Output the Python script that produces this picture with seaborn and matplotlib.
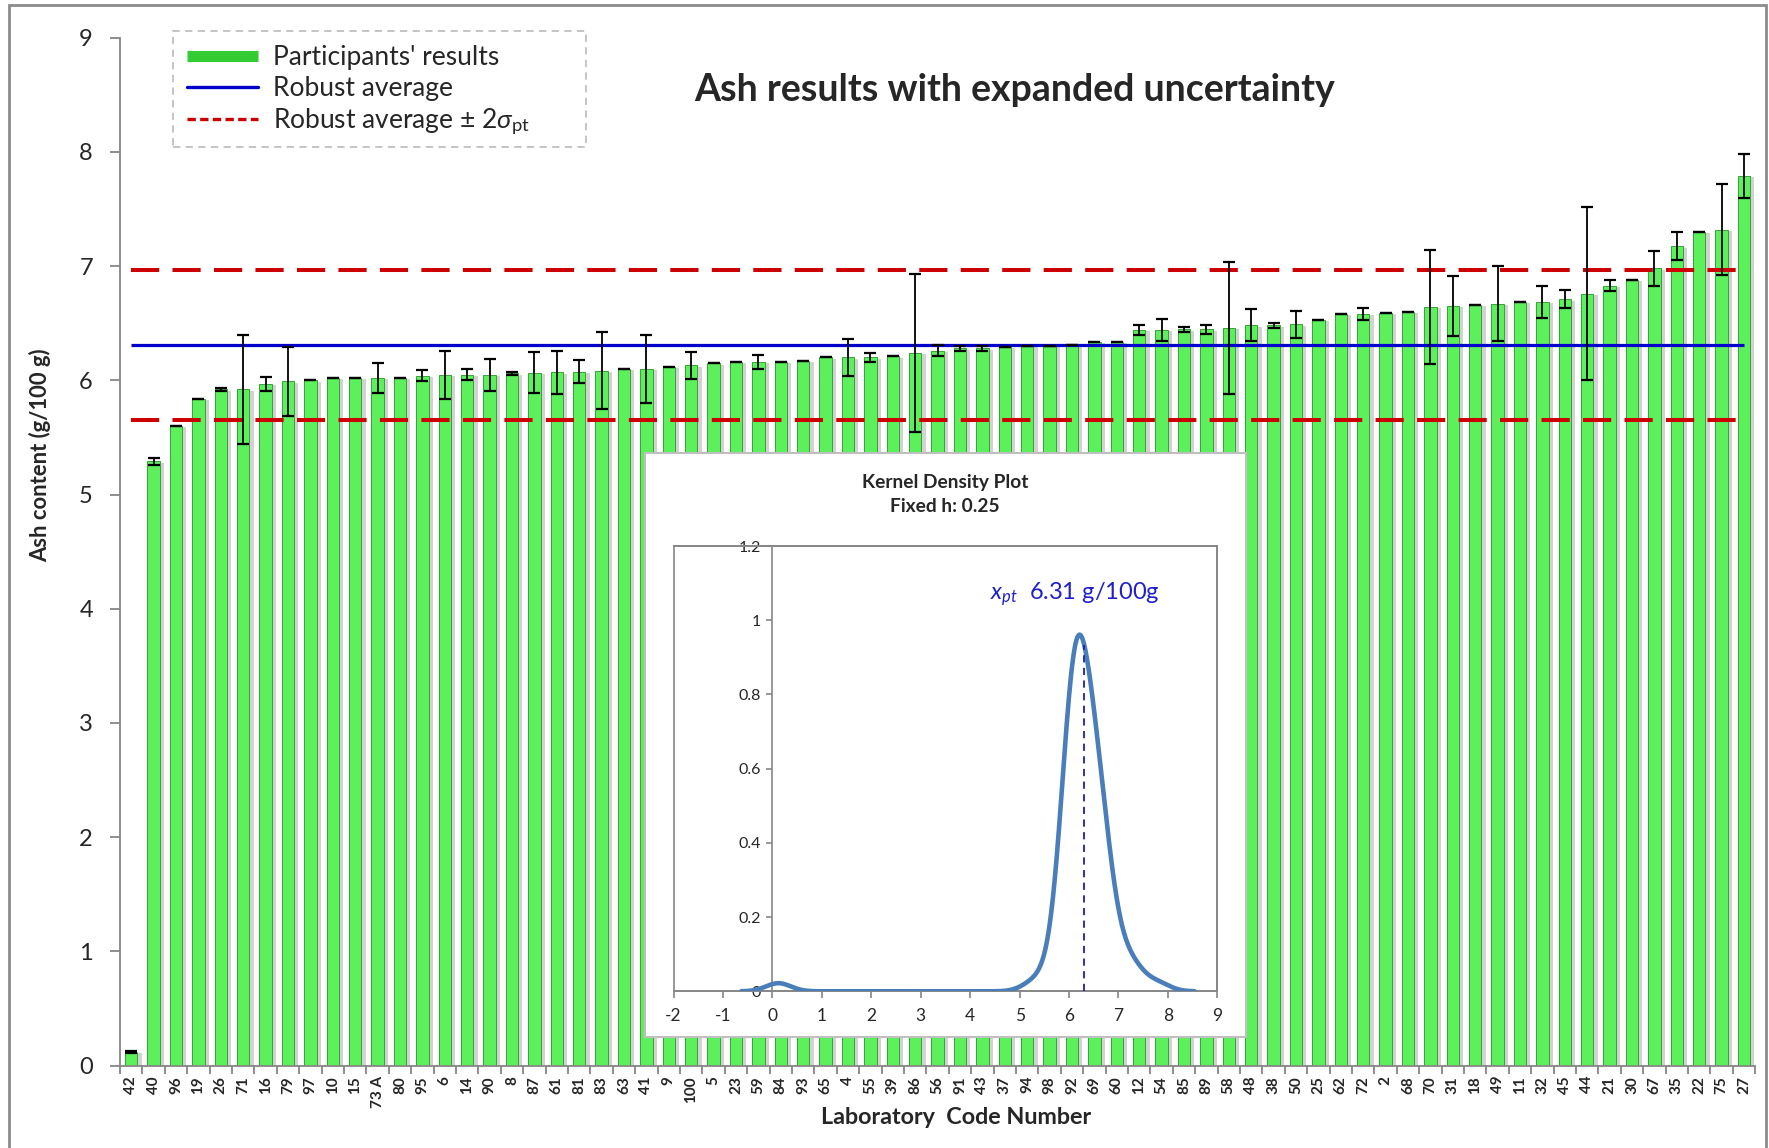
import numpy as np
import pandas as pd
import matplotlib
matplotlib.use("Agg")
import matplotlib.pyplot as plt
import matplotlib.patheffects as pe
from matplotlib.lines import Line2D
from matplotlib.patches import Rectangle
import seaborn as sns

# Laboratory codes, sorted by reported ash content
lab_codes = ["42", "40", "96", "19", "26", "71", "16", "79", "97", "10", "15", "73 A",
             "80", "95", "6", "14", "90", "8", "87", "61", "81", "83", "63", "41", "9",
             "100", "5", "23", "59", "84", "93", "65", "4", "55", "39", "86", "56", "91",
             "43", "37", "94", "98", "92", "69", "60", "12", "54", "85", "89", "58", "48",
             "38", "50", "25", "62", "72", "2", "68", "70", "31", "18", "49", "11", "32",
             "45", "44", "21", "30", "67", "35", "22", "75", "27"]

# Reported ash content (g/100 g)
ash_values = [0.12, 5.29, 5.60, 5.84, 5.92, 5.92, 5.97, 5.99, 6.00, 6.02, 6.02, 6.02,
              6.02, 6.04, 6.05, 6.05, 6.05, 6.06, 6.065, 6.07, 6.075, 6.085, 6.10, 6.10, 6.12,
              6.13, 6.15, 6.16, 6.16, 6.16, 6.17, 6.20, 6.20, 6.20, 6.21, 6.24, 6.26, 6.28,
              6.28, 6.295, 6.30, 6.30, 6.31, 6.335, 6.335, 6.44, 6.44, 6.445, 6.445, 6.46, 6.48,
              6.48, 6.49, 6.53, 6.58, 6.58, 6.59, 6.60, 6.645, 6.65, 6.66, 6.67, 6.685, 6.685,
              6.71, 6.76, 6.83, 6.88, 6.98, 7.175, 7.30, 7.32, 7.79]

# Expanded uncertainty (half-width, g/100 g)
expanded_unc = [0.01, 0.03, 0.0, 0.0, 0.01, 0.48, 0.06, 0.30, 0.0, 0.0, 0.0, 0.13,
                0.0, 0.05, 0.21, 0.05, 0.14, 0.01, 0.18, 0.19, 0.10, 0.34, 0.0, 0.30, 0.0,
                0.12, 0.0, 0.0, 0.06, 0.0, 0.0, 0.0, 0.16, 0.04, 0.0, 0.69, 0.05, 0.02,
                0.02, 0.0, 0.0, 0.0, 0.0, 0.0, 0.0, 0.04, 0.10, 0.02, 0.04, 0.58, 0.14,
                0.025, 0.12, 0.0, 0.0, 0.05, 0.0, 0.0, 0.50, 0.26, 0.0, 0.33, 0.0, 0.14,
                0.08, 0.755, 0.05, 0.0, 0.15, 0.125, 0.0, 0.40, 0.19]

robust_average = 6.31      # x_pt
two_sigma_pt = 0.66        # 2 * sigma_pt
kde_bandwidth = 0.25       # fixed h

y_ticks = list(range(0, 10))
kde_x_ticks = list(range(-2, 10))
kde_y_ticks = [0, 0.2, 0.4, 0.6, 0.8, 1.0, 1.2]
kde_y_ticklabels = ["0", "0.2", "0.4", "0.6", "0.8", "1", "1.2"]

sns.set_style("white")
plt.rcParams["font.family"] = ["Lato", "DejaVu Sans"]
plt.rcParams["mathtext.fontset"] = "custom"
plt.rcParams["mathtext.rm"] = "Lato"
plt.rcParams["mathtext.it"] = "Lato:italic"
plt.rcParams["mathtext.bf"] = "Lato:bold"
plt.rcParams["axes.unicode_minus"] = False

W, H = 1769, 1148
fig = plt.figure(figsize=(W / 100, H / 100), dpi=100)
fig.patch.set_facecolor("white")


def fx(px):
    return px / W


def fy(py):
    return 1 - py / H


GRAY = "#868686"

# ---- main bar chart ----
ax = fig.add_axes([fx(120), fy(1065.5), fx(1755.2) - fx(120), fy(37.7) - fy(1065.5)])
df = pd.DataFrame({"lab": lab_codes, "ash": ash_values, "unc": expanded_unc})
sns.barplot(data=df, x="lab", y="ash", ax=ax, color="#5cf05c", saturation=1,
            width=0.55, errorbar=None, edgecolor="#36a336", linewidth=0.7, zorder=2)
for bar in ax.patches:
    bar.set_path_effects([pe.SimplePatchShadow(offset=(3, -1), shadow_rgbFace="#7f7f7f", alpha=0.35),
                          pe.Normal()])

xpos = np.arange(len(lab_codes))
ax.hlines([robust_average - two_sigma_pt, robust_average + two_sigma_pt], xpos[0], xpos[-1],
          colors="#cc0000", linestyles=[(0, (7, 3.3))], lw=2.9, zorder=3)
ax.hlines(robust_average, xpos[0], xpos[-1], colors="#0000cc", lw=2.3, zorder=3)
ax.errorbar(xpos, df["ash"], yerr=df["unc"], fmt="none", ecolor="black",
            elinewidth=1.3, capsize=4.5, capthick=1.6, zorder=4)

ax.set_xlim(-0.5, len(lab_codes) - 0.5)
ax.set_ylim(0, 9)
ax.set_yticks(y_ticks)
ax.set_xticks(xpos)
ax.set_xticklabels(lab_codes, rotation=90, fontweight="bold", fontsize=11)
ax.set_xticks(np.arange(-0.5, len(lab_codes)), minor=True)
ax.set_xlabel("")
ax.set_ylabel("")
for s in ["top", "right"]:
    ax.spines[s].set_visible(False)
for s in ["left", "bottom"]:
    ax.spines[s].set_color(GRAY)
    ax.spines[s].set_linewidth(1.3)
ax.tick_params(axis="y", length=7, width=1.3, color=GRAY, labelsize=17, pad=12.5, left=True)
ax.tick_params(axis="x", which="major", length=0, pad=7.5)
ax.tick_params(axis="x", which="minor", length=6, width=1.3, color=GRAY, bottom=True)

fig.text(fx(40), fy(455), "Ash content (g/100 g)", rotation=90, ha="center", va="center",
         fontsize=15.8, fontweight="bold")
fig.text(fx(956), fy(1117), "Laboratory  Code Number", ha="center", va="center",
         fontsize=16.8, fontweight="bold")
fig.text(fx(1014.5), fy(90), "Ash results with expanded uncertainty", ha="center", va="center",
         fontsize=27, fontweight="bold")

handles = [Line2D([], [], color="#33cc33", lw=8, solid_capstyle="butt"),
           Line2D([], [], color="#0000cc", lw=2.4),
           Line2D([], [], color="#cc0000", lw=2.4, linestyle=(0, (2.5, 1.3)))]
labels = ["Participants' results", "Robust average", r"Robust average ± 2$\sigma_{\rm pt}$"]
leg = ax.legend(handles, labels, loc="upper left", bbox_to_anchor=(fx(172.7), fy(30.7)),
                bbox_transform=fig.transFigure, frameon=False, fontsize=19, handlelength=2.7,
                handletextpad=0.55, borderpad=0.55, labelspacing=0.22, borderaxespad=0)
# dashed legend frame
fig.add_artist(Rectangle((fx(172.7), fy(147.3)), fx(585.8) - fx(172.7), fy(30.7) - fy(147.3),
                         transform=fig.transFigure, fill=False, edgecolor="#bfbfbf",
                         lw=1.3, linestyle=(0, (4, 3))))

# ---- kernel density inset ----
box = fig.add_axes([fx(644.7), fy(1036.7), fx(1245.8) - fx(644.7), fy(452.7) - fy(1036.7)])
box.set_xticks([])
box.set_yticks([])
box.set_facecolor("white")
for s in box.spines.values():
    s.set_color("#bfbfbf")
    s.set_linewidth(1.5)
box.text(0.5, 1 - (482.7 - 452.7) / (1036.7 - 452.7), "Kernel Density Plot", transform=box.transAxes,
         ha="center", va="center", fontsize=13.8, fontweight="bold")
box.text(0.5, 1 - (506.7 - 452.7) / (1036.7 - 452.7), f"Fixed h: {kde_bandwidth}", transform=box.transAxes,
         ha="center", va="center", fontsize=13.8, fontweight="bold")

kax = fig.add_axes([fx(673.6), fy(991.3), fx(1217.3) - fx(673.6), fy(546) - fy(991.3)])
vals = np.asarray(ash_values)
sns.kdeplot(x=vals, bw_method=kde_bandwidth / np.std(vals, ddof=1), cut=3, gridsize=1000,
            color="#4a7ebb", lw=3.3, ax=kax, zorder=3)
xs, ys = kax.lines[0].get_data()
kax.vlines(robust_average, 0, np.interp(robust_average, xs, ys), colors="#1f1fb4",
           linestyles=[(0, (4, 3))], lw=1.3, zorder=4)
kax.text(4.4, 1.07, f"$x_{{pt}}$  {robust_average:.2f} g/100g", color="#1f1fcc",
         fontsize=17, ha="left", va="center")
kax.set_xlim(-2, 9)
kax.set_ylim(0, 1.2)
kax.set_xticks(kde_x_ticks)
kax.set_yticks(kde_y_ticks)
kax.set_yticklabels(kde_y_ticklabels)
kax.set_xlabel("")
kax.set_ylabel("")
kax.spines["left"].set_position(("data", 0))
for s in kax.spines.values():
    s.set_color(GRAY)
    s.set_linewidth(1.2)
kax.add_patch(Rectangle((0, 0), 1, 1, transform=kax.transAxes, fill=False,
                        edgecolor=GRAY, lw=1.2, clip_on=False, zorder=1))
kax.tick_params(axis="y", length=4, width=1.2, color=GRAY, labelsize=11.5, pad=4, left=True)
kax.tick_params(axis="x", length=5, width=1.2, color=GRAY, labelsize=12.5, pad=7, bottom=True)

# outer chart border
fig.add_artist(Rectangle((fx(9), -0.02), fx(1766) - fx(9), fy(5) + 0.02, transform=fig.transFigure,
                         fill=False, edgecolor="#8c8c8c", lw=2))

fig.savefig("out.png", dpi=100)
